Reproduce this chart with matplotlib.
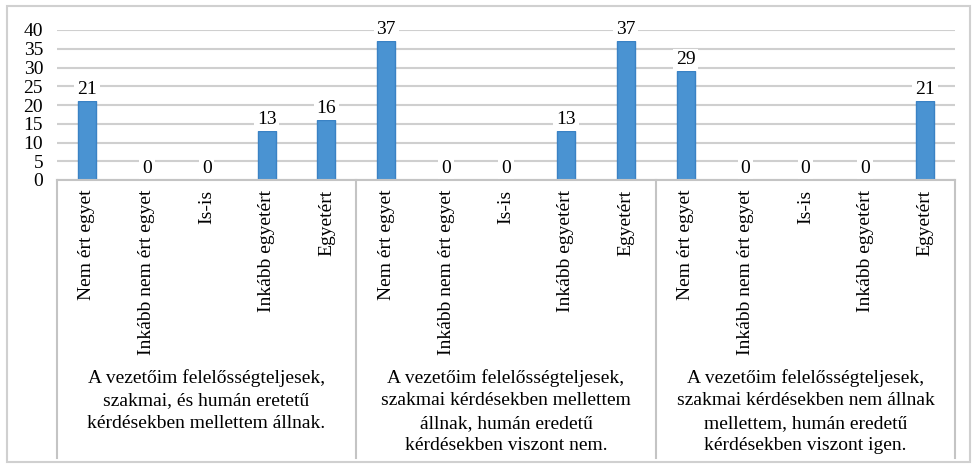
import matplotlib
matplotlib.use("Agg")
import matplotlib.pyplot as plt
from matplotlib.lines import Line2D
from matplotlib.patches import Rectangle

# answer options, repeated for each statement
answers = ["Nem ért egyet", "Inkább nem ért egyet", "Is-is", "Inkább egyetért", "Egyetért"]
groups = [
    "A vezetőim felelősségteljesek,\nszakmai, és humán eretetű\nkérdésekben mellettem állnak.",
    "A vezetőim felelősségteljesek,\nszakmai kérdésekben mellettem\nállnak, humán eredetű\nkérdésekben viszont nem.",
    "A vezetőim felelősségteljesek,\nszakmai kérdésekben nem állnak\nmellettem, humán eredetű\nkérdésekben viszont igen.",
]
values_g1 = [21, 0, 0, 13, 16]
values_g2 = [37, 0, 0, 13, 37]
values_g3 = [29, 0, 0, 0, 21]

values = values_g1 + values_g2 + values_g3
labels = answers * 3
xpos = list(range(len(values)))

plt.rcParams['font.family'] = ['Liberation Serif', 'DejaVu Serif']
FS = 14

W, H = 974, 466
fig = plt.figure(figsize=(W / 100, H / 100), dpi=100)
fig.patch.set_facecolor("white")
ax = fig.add_axes([57 / W, 1 - 180 / H, (955 - 57) / W, 150 / H])

ax.set_xlim(-0.5, len(values) - 0.5)
ax.set_ylim(0, 40)
ax.set_yticks(range(0, 41, 5))
ax.tick_params(axis="y", length=0, pad=10, labelsize=FS)
ax.tick_params(axis="x", length=0, pad=7, labelsize=FS)
ax.set_xticks(xpos)
ax.set_xticklabels(labels, rotation=90, va="top", ha="center")
for s in ax.spines.values():
    s.set_visible(False)
ax.grid(axis="y", color="#CFCFCF", linewidth=1.5)
ax.set_axisbelow(True)

bars = ax.bar(xpos, values, width=0.3, color="#4A93D2", edgecolor="#3A82C4", linewidth=1, zorder=3)
for x, v in zip(xpos, values):
    ax.annotate(str(v), (x, v), xytext=(0, 2), textcoords="offset points",
                ha="center", va="bottom", fontsize=FS, zorder=4,
                bbox=dict(boxstyle="square,pad=0.15", fc="white", ec="none"))

# group boxes below the axis
gray = "#C4C4C4"
fig.add_artist(Line2D([57 / W, 955 / W], [1 - 180 / H, 1 - 180 / H], color=gray, lw=1.5))
for px in [57, 356, 656, 955]:
    fig.add_artist(Line2D([px / W, px / W], [1 - 180 / H, 1 - 458 / H], color=gray, lw=1.5))

centers = [(57 + 356) / 2, (356 + 656) / 2, (656 + 955) / 2]
for cx, g in zip(centers, groups):
    fig.text(cx / W, 1 - 369 / H, g, ha="center", va="top", fontsize=FS, linespacing=1.42)

# outer frame
fig.add_artist(Rectangle((7 / W, 1 - 462 / H), 963 / W, 456 / H, transform=fig.transFigure,
                         fill=False, ec="#D0D0D0", lw=1.5))

fig.savefig("out.png", dpi=100)
